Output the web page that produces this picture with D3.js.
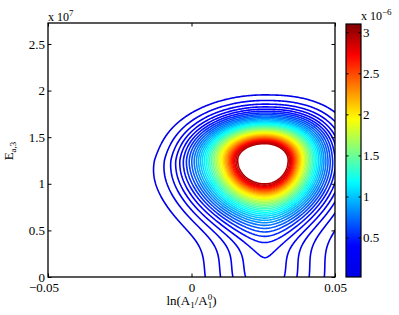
<!DOCTYPE html>
<html>
<head>
<meta charset="utf-8">
<script src="https://cdn.jsdelivr.net/npm/d3@7"></script>
<style>
  body { margin: 0; background: #fff; }
  svg text { font-family: "Liberation Serif", "Times New Roman", serif; fill: #000; }
</style>
</head>
<body>
<svg id="chart" width="399" height="315"></svg>
<script>
// axis ranges and ticks
var xDomain = [-0.05, 0.05];
var yDomain = [0, 2.725];          // x 10^7
var zDomain = [0.02, 3.1];         // x 10^-6
var xTicks = [-0.05, 0, 0.05];
var xTickLabels = ["\u22120.05", "0", "0.05"];
var yTicks = [0, 0.5, 1, 1.5, 2, 2.5];
var yTickLabels = ["0", "0.5", "1", "1.5", "2", "2.5"];
var cbTicks = [0.5, 1, 1.5, 2, 2.5, 3];
var cbTickLabels = ["0.5", "1", "1.5", "2", "2.5", "3"];

// contour levels (x 10^-6)
var levels = [0.076, 0.151, 0.227, 0.302, 0.378, 0.454, 0.529, 0.605, 0.680, 0.756,
  0.832, 0.907, 0.983, 1.058, 1.134, 1.210, 1.285, 1.361, 1.436, 1.512,
  1.588, 1.663, 1.739, 1.814, 1.890, 1.966, 2.041, 2.117, 2.192, 2.268,
  2.344, 2.419, 2.495, 2.570, 2.646, 2.722, 2.797, 2.873, 2.948];

// density surface: one flat-topped peak plus a low foot reaching the bottom edge
var peakCenter = [0.0255, 1.25];
var peakHeight = 3.1;
var peakReach = [0.0213, 0.0185, 0.57, 0.405];    // left, right, below, above
var peakRoundness = [2, 2.4, 1.75, 1.8];          // upper-left, upper-right, lower-left, lower-right
var upperProfile = [216.5, 10, 0.5, 2.3];         // scale, inner power, knee, outer power
var lowerProfile = [266, 10, 0.5, 2.0];
var footCenter = [0.0256, 0];
var footHeight = 0.335;
var footSpread = [0.0118, 0.354];

var svg = d3.select("#chart");
var plot = { left: 48, right: 335, top: 23, bottom: 277 };
var bar = { left: 346, right: 361, top: 24, bottom: 277 };

var x = d3.scaleLinear().domain(xDomain).range([plot.left, plot.right]);
var y = d3.scaleLinear().domain(yDomain).range([plot.bottom, plot.top]);
var cy = d3.scaleLinear().domain(zDomain).range([bar.bottom, bar.top]);
var ct = d3.scaleLinear().domain(zDomain).range([0, 1]).clamp(true);

function clamp1(v) { return Math.max(0, Math.min(1, v)); }
// jet, with a lighter blue at the very bottom as in the picture
function jet(t) {
    var r = clamp1(1.5 - Math.abs(4 * t - 3)),
        g = clamp1(1.5 - Math.abs(4 * t - 2)),
        b = t < 0.125 ? 0.9 + 0.8 * t : clamp1(1.5 - Math.abs(4 * t - 1));
    return d3.rgb(255 * r, 255 * g, 255 * b).formatHex();
}

function profile(r, p) {
    return p[0] * Math.pow(r, p[1]) / (1 + Math.pow(r / p[2], p[1] - p[3]));
}

function field(px, py) {
    var lx = px < peakCenter[0], ly = py < peakCenter[1];
    var u = Math.abs(px - peakCenter[0]) / (lx ? peakReach[0] : peakReach[1]);
    var v = Math.abs(py - peakCenter[1]) / (ly ? peakReach[2] : peakReach[3]);
    var q0 = peakRoundness[(ly ? 2 : 0) + (lx ? 0 : 1)];
    var q = 2 + (q0 - 2) * clamp1((Math.sqrt(u * u + v * v) - 0.5) / 0.8);
    var r = Math.pow(Math.pow(u, q) + Math.pow(v, q), 1 / q);
    var w = 0.5 + 0.5 * Math.tanh((ly ? -v : v) * 2.5);
    var g = w * profile(r, upperProfile) + (1 - w) * profile(r, lowerProfile);
    var z = peakHeight * Math.exp(-g);
    var fx = (px - footCenter[0]) / footSpread[0],
        fy = (py - footCenter[1]) / footSpread[1];
    return z + footHeight * Math.exp(-0.5 * (fx * fx + fy * fy));
}

// sample the surface on a pixel grid a bit larger than the plot box
var gx0 = plot.left - 8, gy0 = plot.top - 8, step = 1;
var nx = Math.round((plot.right + 8 - gx0) / step) + 1;
var ny = Math.round((plot.bottom + 8 - gy0) / step) + 1;
var values = new Float64Array(nx * ny);
for (var j = 0; j < ny; j++) {
    for (var i = 0; i < nx; i++) {
        values[j * nx + i] = field(x.invert(gx0 + i * step), y.invert(gy0 + j * step));
    }
}

var contours = d3.contours().size([nx, ny]).thresholds(levels)(values);
var path = d3.geoPath(d3.geoIdentity().scale(step).translate([gx0 - 0.5 * step, gy0 - 0.5 * step]));

svg.append("defs").append("clipPath").attr("id", "plotClip")
    .append("rect")
    .attr("x", plot.left).attr("y", plot.top)
    .attr("width", plot.right - plot.left).attr("height", plot.bottom - plot.top);

svg.append("g")
    .attr("clip-path", "url(#plotClip)")
    .selectAll("path")
    .data(contours)
    .enter().append("path")
    .attr("d", path)
    .attr("fill", "none")
    .attr("stroke", function (d) { return jet(ct(d.value)); })
    .attr("stroke-width", 1.6)
    .attr("stroke-linejoin", "round");

// axes box with inward ticks
function styleAxis(g) {
    g.select(".domain").remove();
    g.selectAll("line").attr("stroke", "#000").attr("stroke-width", 1);
    g.selectAll("text").attr("font-family", "Liberation Serif, serif").attr("font-size", 13).attr("fill", "#000");
}

svg.append("g").attr("transform", "translate(0," + plot.bottom + ")")
    .call(d3.axisBottom(x).tickValues(xTicks).tickSize(-3.5).tickPadding(6)
        .tickFormat(function (d, i) { return xTickLabels[i]; }))
    .call(styleAxis)
    .selectAll("text").attr("dx", function (d, i) { return i === 0 ? -4.5 : 0; });
svg.append("g").attr("transform", "translate(0," + plot.top + ")")
    .call(d3.axisTop(x).tickValues(xTicks).tickSize(-3.5).tickFormat(""))
    .call(styleAxis);
svg.append("g").attr("transform", "translate(" + plot.left + ",0)")
    .call(d3.axisLeft(y).tickValues(yTicks).tickSize(-3.5).tickPadding(3)
        .tickFormat(function (d, i) { return yTickLabels[i]; }))
    .call(styleAxis);
svg.append("g").attr("transform", "translate(" + plot.right + ",0)")
    .call(d3.axisRight(y).tickValues(yTicks).tickSize(-3.5).tickFormat(""))
    .call(styleAxis);

svg.append("rect")
    .attr("x", plot.left).attr("y", plot.top)
    .attr("width", plot.right - plot.left).attr("height", plot.bottom - plot.top)
    .attr("fill", "none").attr("stroke", "#000").attr("stroke-width", 1.3);

// colour bar
var grad = svg.select("defs").append("linearGradient")
    .attr("id", "jetGrad").attr("x1", 0).attr("y1", 1).attr("x2", 0).attr("y2", 0);
grad.selectAll("stop").data(d3.range(0, 1.0001, 0.02)).enter().append("stop")
    .attr("offset", function (d) { return d; })
    .attr("stop-color", function (d) { return jet(d); });

svg.append("rect")
    .attr("x", bar.left).attr("y", bar.top)
    .attr("width", bar.right - bar.left).attr("height", bar.bottom - bar.top)
    .attr("fill", "url(#jetGrad)");

svg.append("g").attr("transform", "translate(" + bar.right + ",0)")
    .call(d3.axisRight(cy).tickValues(cbTicks).tickSize(-2.5).tickPadding(2)
        .tickFormat(function (d, i) { return cbTickLabels[i]; }))
    .call(styleAxis);
svg.append("g").attr("transform", "translate(" + bar.left + ",0)")
    .call(d3.axisLeft(cy).tickValues(cbTicks).tickSize(-2.5).tickFormat(""))
    .call(styleAxis);

svg.append("rect")
    .attr("x", bar.left).attr("y", bar.top)
    .attr("width", bar.right - bar.left).attr("height", bar.bottom - bar.top)
    .attr("fill", "none").attr("stroke", "#000").attr("stroke-width", 1.2);

// exponent labels
var e1 = svg.append("text").attr("x", plot.left).attr("y", 20.5).attr("font-size", 12);
e1.append("tspan").text("x 10");
e1.append("tspan").attr("font-size", 9).attr("dy", -5).text("7");

var e2 = svg.append("text").attr("x", bar.right).attr("y", 20).attr("font-size", 12);
e2.append("tspan").text("x 10");
e2.append("tspan").attr("font-size", 9).attr("dy", -5).text("\u22126");

// axis titles
var yl = svg.append("text")
    .attr("transform", "translate(13,151) rotate(-90)")
    .attr("text-anchor", "middle").attr("font-size", 13);
yl.append("tspan").text("E");
yl.append("tspan").attr("font-size", 9).attr("dy", 3).text("a,3");

var xl = svg.append("text")
    .attr("x", (plot.left + plot.right) / 2).attr("y", 305)
    .attr("text-anchor", "middle").attr("font-size", 13);
xl.append("tspan").text("ln(A");
xl.append("tspan").attr("font-size", 9).attr("dy", 3).text("1");
xl.append("tspan").attr("dy", -3).text("/A");
xl.append("tspan").attr("font-size", 9).attr("dy", 3).text("1");
xl.append("tspan").attr("font-size", 9).attr("dx", -4.5).attr("dy", -8).text("0");
xl.append("tspan").attr("dy", 5).text(")");
</script>
</body>
</html>
